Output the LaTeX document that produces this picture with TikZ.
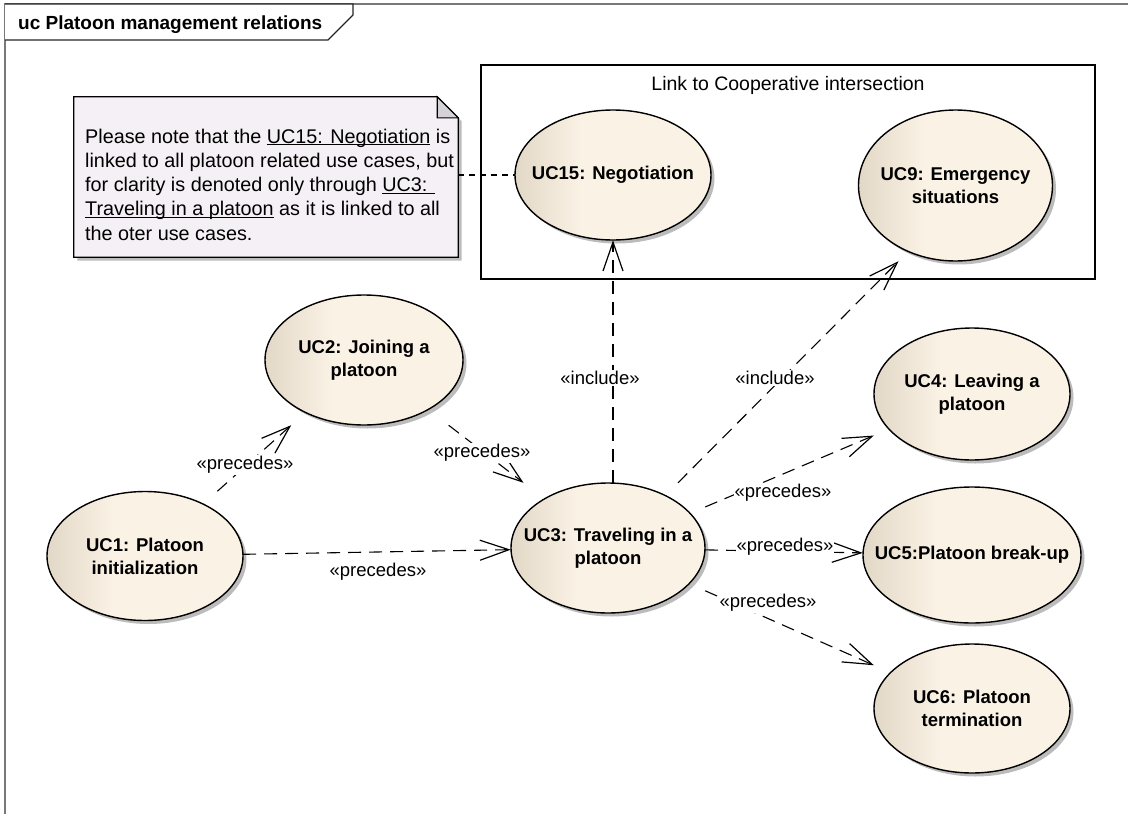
\documentclass[tikz,border=0pt]{standalone}
\usepackage{fontspec}
\setmainfont{Liberation Sans}
\usetikzlibrary{arrows.meta,calc}
\pgfdeclarelayer{background}
\pgfsetlayers{background,main}

\definecolor{ucdark}{RGB}{226,216,199}
\definecolor{uclight}{RGB}{250,242,229}
\definecolor{notefill}{RGB}{245,240,245}
\definecolor{foldfill}{RGB}{212,210,216}
\definecolor{shadowgray}{RGB}{188,188,188}
\definecolor{framegray}{RGB}{120,120,120}

% beige use-case fill: darker band on the left, light towards the right
\pgfdeclarehorizontalshading{ucshade}{100bp}{color(0bp)=(ucdark); color(25bp)=(ucdark); color(42bp)=(uclight); color(100bp)=(uclight)}

% underline sitting just below the baseline
\newcommand\uln[1]{\setbox0=\hbox{#1}\rlap{\rule[-2.4pt]{\wd0}{1.1pt}}\box0\relax}

% use case: name, x, y, x radius, y radius, text
\newcommand\usecase[6]{%
  \node[uctext, minimum width={2*#4pt}, minimum height={2*#5pt}] (#1) at (#2,#3) {#6};
  \begin{pgfonlayer}{background}
    \fill[shadowgray] ([shift={(3.5,3.5)}]#1.center) ellipse [x radius=#4pt, y radius=#5pt];
    \shadedraw[shading=ucshade, line width=1.4pt] (#1.center) ellipse [x radius=#4pt, y radius=#5pt];
  \end{pgfonlayer}}

\begin{document}
\begin{tikzpicture}[x=1pt, y=-1pt,
  uctext/.style={rectangle, inner sep=0pt, align=center,
    font=\bfseries\fontsize{18.5}{23}\selectfont},
  conn/.style={line width=1.1pt, dash pattern=on 13pt off 8pt,
    -{Straight Barb[length=29pt, width=20pt, line width=1.2pt]}},
  notelink/.style={line width=1.1pt, dash pattern=on 6pt off 5pt},
  lbl/.style={font=\fontsize{18.5}{22}\selectfont, fill=white, inner sep=1pt}]

\useasboundingbox (0,0) rectangle (1128,814);

% diagram frame and its name tab
\draw[framegray, line width=1.2pt] (5,814) -- (5,4) -- (1128,4);
\draw[black!85, fill=white, line width=1.1pt] (5,4) -- (353,4) -- (353,15) -- (328,40) -- (5,40);
\node[anchor=base west, inner sep=0pt, font=\bfseries\fontsize{19}{22}\selectfont] (frametitle) at (18,29.5) {uc Platoon management relations};

% boundary of the cooperative intersection
\node[draw, line width=1.3pt, minimum width=614, minimum height=214, inner sep=0pt] (pkg) at (788,172) {};
\node[font=\fontsize{19.5}{22}\selectfont, inner sep=0pt] (pkgtitle) at (788,85) {Link to Cooperative intersection};

% comment note with folded corner
\node[minimum width=384, minimum height=160, inner sep=0pt] (note) at (266,177) {};
\fill[shadowgray] ($(note.north west)+(3.5,3.5)$) -- ($(note.north east)+(-17.5,3.5)$) -- ($(note.north east)+(3.5,24.5)$) -- ($(note.south east)+(3.5,3.5)$) -- ($(note.south west)+(3.5,3.5)$) -- cycle;
\draw[fill=notefill, line width=1.3pt] (note.north west) -- ($(note.north east)+(-21,0)$) -- ($(note.north east)+(0,21)$) -- (note.south east) -- (note.south west) -- cycle;
\draw[fill=foldfill, line width=1.1pt] ($(note.north east)+(-21,0)$) -- ($(note.north east)+(-21,21)$) -- ($(note.north east)+(0,21)$) -- cycle;
\node[anchor=north west, align=left, inner sep=0pt, font=\fontsize{19.8}{24.3}\selectfont] (notetext) at (85,128.5)
  {Please note that the \uln{UC15: Negotiation} is\\
   linked to all platoon related use cases, but\\
   for clarity is denoted only through \uln{UC3: }\\
   \uln{Traveling in a platoon} as it is linked to all\\
   the oter use cases.};

% use cases
\usecase{uc15}{613}{175}{98}{65}{UC15: Negotiation}
\usecase{uc9}{955.5}{185.5}{97}{75.5}{UC9: Emergency\\situations}
\usecase{uc2}{364}{360}{99}{65}{UC2: Joining a\\platoon}
\usecase{uc1}{145}{556}{98}{64.5}{UC1: Platoon\\initialization}
\usecase{uc3}{608}{548}{97}{65}{UC3: Traveling in a\\platoon}
\usecase{uc4}{972}{394}{98}{66}{UC4: Leaving a\\platoon}
\usecase{uc5}{972}{555}{109}{68}{UC5:Platoon break-up}
\usecase{uc6}{972}{708.5}{98}{64.5}{UC6: Platoon\\termination}

% relations
\draw[notelink] (note.east |- uc15) -- (uc15);
\draw[conn] (uc1) -- (uc2);
\draw[conn] (uc2) -- (uc3);
\draw[conn] (uc1) -- (uc3);
\draw[conn] (uc3.north -| uc15) -- (uc15);
\draw[conn] ([xshift=70pt]uc3.north) -- ([xshift=-57pt]uc9.south);
\draw[conn] (uc3) -- (uc4);
\draw[conn] (uc3) -- (uc5);
\draw[conn] (uc3) -- (uc6);

% stereotypes
\node[lbl] (l12) at (245,465) {«precedes»};
\node[lbl] (l23) at (482,453) {«precedes»};
\node[lbl] (l13) at (378,572) {«precedes»};
\node[lbl] (l315) at (600,378) {«include»};
\node[lbl] (l39) at (775,378) {«include»};
\node[lbl] (l34) at (783,493) {«precedes»};
\node[lbl] (l35) at (785,547) {«precedes»};
\node[lbl] (l36) at (768,603) {«precedes»};

\end{tikzpicture}
\end{document}
